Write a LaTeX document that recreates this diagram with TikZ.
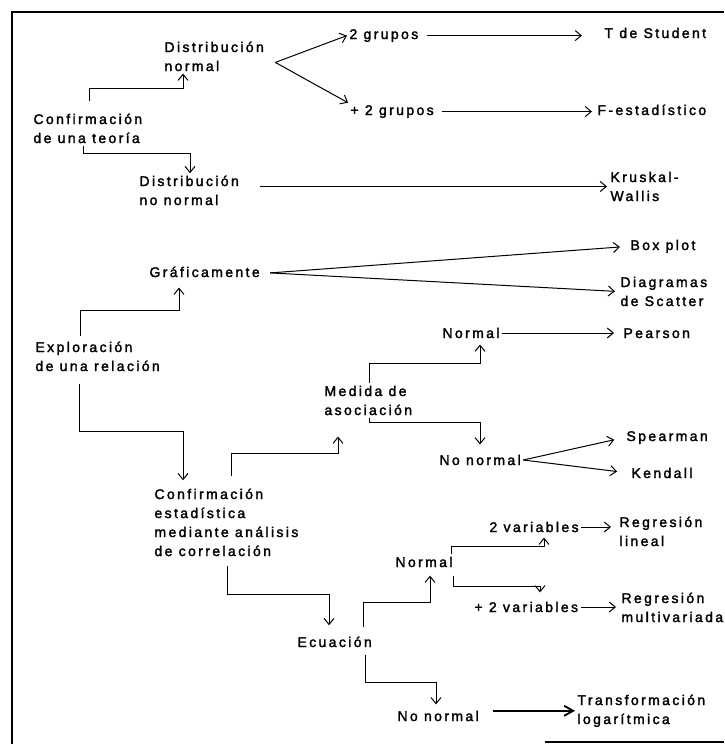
\documentclass[tikz,border=0pt]{standalone}
\usepackage{fontspec}
\setmainfont{Liberation Sans}[LetterSpace=17,FakeBold=2]
\usetikzlibrary{arrows.meta,calc}

\tikzset{
  txt/.style={anchor=base west, align=left, inner sep=2pt, font=\fontsize{14}{19}\selectfont},
  frame/.style={line width=1.8pt},
  heavy/.style={line width=1.8pt, -{Straight Barb[length=9pt,width=10pt]}},
}

\begin{document}
\begin{tikzpicture}[x=1pt,y=1pt,line width=1pt,>={Straight Barb[length=6pt,width=10pt]}]
\useasboundingbox (0,0) rectangle (724,-744);
\draw[frame] (12,-744) -- (12,-12) -- (724,-12);
\draw[frame] (545,-742) -- (724,-742);

% confirmacion de una teoria (base = last line)
\node[txt] (ct)  at (31,-143)  {Confirmación\\de una teoría};
\node[txt] (dn)  at (162,-71)  {Distribución\\normal};
\node[txt] (dnn) at (137,-205) {Distribución\\no normal};
\node[txt] (gg)  at (347,-39)  {2 grupos};
\node[txt] (gm)  at (348,-115) {+ 2 grupos};
\node[txt] (ts)  at (602,-38)  {T de Student};
\node[txt] (fe)  at (595,-115) {F-estadístico};
\node[txt] (kw)  at (608,-201) {Kruskal-\\Wallis};

% exploracion de una relacion
\node[txt] (er)  at (33,-371)  {Exploración\\de una relación};
\node[txt] (gr)  at (147,-277) {Gráficamente};
\node[txt] (bp)  at (628,-250) {Box plot};
\node[txt] (ds)  at (618,-306) {Diagramas\\de Scatter};
\node[txt] (ce)  at (152,-556) {Confirmación\\estadística\\mediante análisis\\de correlación};
\node[txt] (ma)  at (322,-415) {Medida de\\asociación};
\node[txt] (nm)  at (440,-338) {Normal};
\node[txt] (pe)  at (621,-338) {Pearson};
\node[txt] (nn)  at (437,-465) {No normal};
\node[txt] (sp)  at (624,-441) {Spearman};
\node[txt] (ke)  at (629,-478) {Kendall};

% ecuacion
\node[txt] (ec)  at (295,-647) {Ecuación};
\node[txt] (no)  at (393,-567) {Normal};
\node[txt] (va)  at (487,-532) {2 variables};
\node[txt] (vm)  at (472,-612) {+ 2 variables};
\node[txt] (rl)  at (617,-546) {Regresión\\lineal};
\node[txt] (rm)  at (619,-622) {Regresión\\multivariada};
\node[txt] (nx)  at (395,-721) {No normal};
\node[txt] (tl)  at (575,-724) {Transformación\\logarítmica};

\coordinate (dnfork) at ([shift={(9,-6)}]dn.east);
\coordinate (grfork) at ([shift={(8,-1)}]gr.east);

% elbows
\draw[->] ([shift={(58,10)}]ct.north west) -- ++(0,13) -| ([xshift=21pt]dn.south west);
\draw[->] ([xshift=52pt]ct.south west) -- ++(0,-8) -| ([xshift=53pt]dnn.north west);
\draw[->] ([shift={(47,3)}]er.north west) -- ++(0,26) -| ([shift={(32,-8)}]gr.south west);
\draw[->] ([shift={(46,-10)}]er.south west) -- ++(0,-48) -| ([shift={(31,6)}]ce.north west);
\draw[->] ([shift={(79,10)}]ce.north west) -- ++(0,23) -| ([shift={(16,-19)}]ma.south west);
\draw[->] ([xshift=47pt]ma.north west) -- ++(0,20) -| ([shift={(40,-4)}]nm.south west);
\draw[->] ([xshift=47pt]ma.south west) -- ++(0,-5) -| ([shift={(43,8)}]nn.north west);
\draw[->] ([shift={(75,-7)}]ce.south west) -- ++(0,-29) -| ([shift={(34,9)}]ec.north west);
\draw[->] ([shift={(68,7)}]ec.north west) -- ++(0,25) -| ([shift={(37,-6)}]no.south west);
\draw[->] ([shift={(70,-5)}]ec.south west) -- ++(0,-28) -| ([shift={(41,4)}]nx.north west);
\draw[->] ([xshift=58pt]no.north west) -- ++(0,8) -| ([shift={(57,-3)}]va.south west);
\draw[->] ([shift={(60,-6)}]no.south west) -- ++(0,-11) -| ([shift={(68,7)}]vm.north west);

% straight ones
\path[->]
  (dnfork) edge (gg.west)
  (dnfork) edge (gm.north west)
  (gg.east) edge[shorten <=6pt, shorten >=20pt] (gg.east -| ts.west)
  (gm.east) edge[shorten <=6pt, shorten >=3pt] (gm.east -| fe.west)
  (kw.west -| dnn.east) edge[shorten <=19pt, shorten >=1pt] (kw.west)
  (grfork) edge[shorten >=8pt] (bp.west)
  (grfork) edge[shorten >=3pt] (ds.west)
  (nm.east) edge[shorten >=7pt] (nm.east -| pe.west)
  (nn.east) edge[shorten >=10pt] (sp.west)
  (nn.east) edge[shorten >=12pt] (ke.west)
  (va.east) edge[shorten >=6pt] (va.east -| rl.west)
  (vm.east) edge[shorten >=3pt] (vm.east -| rm.west)
  ;
\draw[heavy, shorten <=12pt] (tl.west -| nx.east) -- (tl.west);
\end{tikzpicture}
\end{document}
